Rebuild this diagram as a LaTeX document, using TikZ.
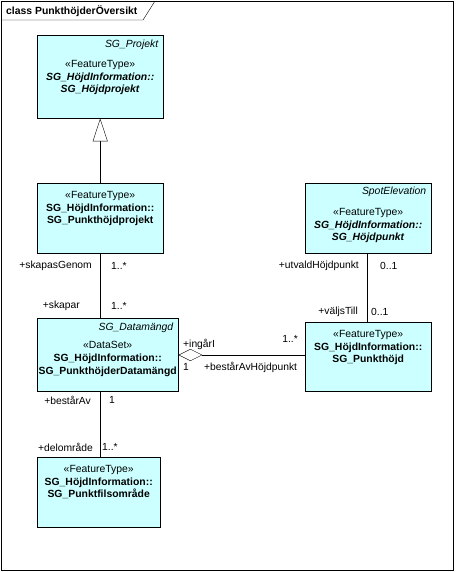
\documentclass[tikz,border=0pt]{standalone}
\usepackage{fontspec}
\setmainfont{Liberation Sans}
\usetikzlibrary{arrows.meta, positioning}
\definecolor{clsfill}{RGB}{204,255,255}

\begin{document}
\begin{tikzpicture}[x=1pt, y=-1pt,
  cls/.style={draw, fill=clsfill, inner sep=0pt, anchor=north west},
  body/.style={inner sep=0pt, align=center, anchor=north,
    font=\fontsize{10.4}{12.8}\selectfont},
  parent/.style={inner sep=0pt, anchor=north east,
    font=\fontsize{10.4}{12}\selectfont\itshape},
  role/.style={inner sep=0pt, font=\fontsize{10.3}{12}\selectfont},
  gen/.style={-{Triangle[open, length=23pt, width=15pt, fill=white]}},
  aggr/.style={-{Diamond[open, length=24pt, width=12pt, fill=white]}}
]
  \useasboundingbox (0,0) rectangle (455,572);
  % diagram frame
  \node[draw, anchor=north west, inner sep=0pt, minimum width=452pt,
    minimum height=569pt] (frame) at (1,1) {};
  \draw (frame.north west |- 0,20) -- (143,20) -- (155,1);
  \node[inner sep=0pt, anchor=west, font=\fontsize{10.4}{12}\selectfont\bfseries]
    (title) at (6,11) {class PunkthöjderÖversikt};

  % classes
  \node[cls, minimum width=126pt, minimum height=83pt] (proj) at (37,35) {};
  \node[cls, minimum width=126pt, minimum height=70pt] (pp) at (37,183) {};
  \node[cls, minimum width=126pt, minimum height=70pt] (spot) at (305,183) {};
  \node[cls, minimum width=141pt, minimum height=73pt] (dm) at (37,318) {};
  \node[cls, minimum width=126pt, minimum height=69pt] (ph) at (305,322) {};
  \node[cls, minimum width=123pt, minimum height=70pt] (pf) at (37,457) {};

  \node[parent] (projP) at ([xshift=-5pt, yshift=-5pt]proj.north east) {SG\_Projekt};
  \node[body] (projB) at ([yshift=-25pt]proj.north)
    {«FeatureType»\\\textbf{\textit{SG\_HöjdInformation::}}\\\textbf{\textit{SG\_Höjdprojekt}}};
  \node[body] (ppB) at ([yshift=-8pt]pp.north)
    {«FeatureType»\\\textbf{SG\_HöjdInformation::}\\\textbf{SG\_Punkthöjdprojekt}};
  \node[parent] (spotP) at ([xshift=-5pt, yshift=-4pt]spot.north east) {SpotElevation};
  \node[body] (spotB) at ([yshift=-25pt]spot.north)
    {«FeatureType»\\\textbf{\textit{SG\_HöjdInformation::}}\\\textbf{\textit{SG\_Höjdpunkt}}};
  \node[parent] (dmP) at ([xshift=-5pt, yshift=-5pt]dm.north east) {SG\_Datamängd};
  \node[body] (dmB) at ([yshift=-23pt]dm.north)
    {«DataSet»\\\textbf{SG\_HöjdInformation::}\\\textbf{SG\_PunkthöjderDatamängd}};
  \node[body] (phB) at ([yshift=-8pt]ph.north)
    {«FeatureType»\\\textbf{SG\_HöjdInformation::}\\\textbf{SG\_Punkthöjd}};
  \node[body] (pfB) at ([yshift=-8pt]pf.north)
    {«FeatureType»\\\textbf{SG\_HöjdInformation::}\\\textbf{SG\_Punktfilsområde}};

  % connectors
  \coordinate (aggY) at (0,355);
  \draw[gen] (pp.north) -- (proj.south);
  \draw (pp.south) -- (pp.south |- dm.north);
  \draw (pp.south |- dm.south) -- (pp.south |- pf.north);
  \draw ([xshift=-1pt]spot.south) -- ([xshift=-1pt]spot.south |- ph.north);
  \draw[aggr] (aggY -| ph.west) -- (aggY -| dm.east);

  % roles and multiplicities
  \node[role, anchor=east] (r1) at (92,266) {+skapasGenom};
  \node[role, anchor=west] (m1) at (111,266) {1..*};
  \node[role, anchor=east] (r2) at (80,306) {+skapar};
  \node[role, anchor=west] (m2) at (111,306) {1..*};
  \node[role, anchor=east] (r3) at (359,266) {+utvaldHöjdpunkt};
  \node[role, anchor=west] (m3) at (380,266) {0..1};
  \node[role, anchor=east] (r4) at (358,312) {+väljsTill};
  \node[role, anchor=west] (m4) at (371,312) {0..1};
  \node[role, anchor=west] (r5) at (183,344) {+ingårI};
  \node[role, anchor=west] (m5) at (183,367) {1};
  \node[role, anchor=west] (r6) at (204,367) {+bestårAvHöjdpunkt};
  \node[role, anchor=east] (m6) at (298,339) {1..*};
  \node[role, anchor=east] (r7) at (91,400) {+bestårAv};
  \node[role, anchor=west] (m7) at (109,400) {1};
  \node[role, anchor=east] (r8) at (93,447) {+delområde};
  \node[role, anchor=west] (m8) at (102,447) {1..*};
\end{tikzpicture}
\end{document}
